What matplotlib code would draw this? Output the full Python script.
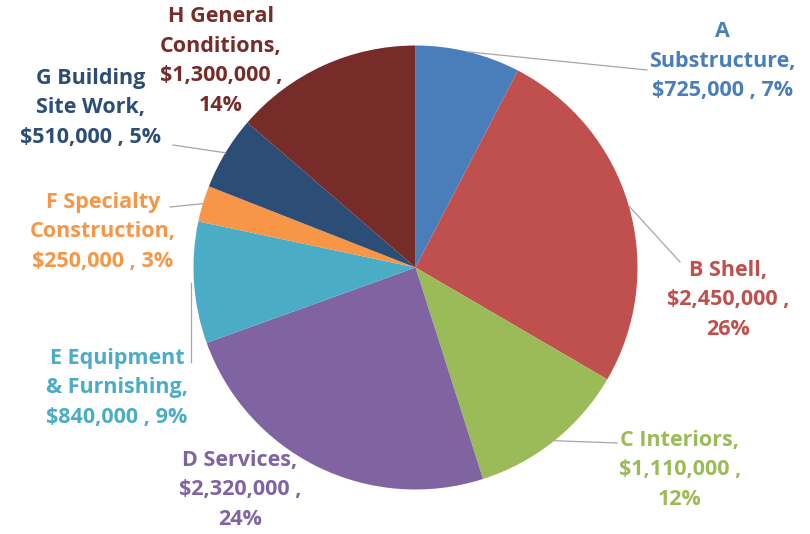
import numpy as np
import matplotlib.pyplot as plt

# budget breakdown by category
categories = ['A\nSubstructure,', 'B Shell,', 'C Interiors,', 'D Services,',
              'E Equipment\n& Furnishing,', 'F Specialty\nConstruction,',
              'G Building\nSite Work,', 'H General\nConditions,']
values = [725000, 2450000, 1110000, 2320000, 840000, 250000, 510000, 1300000]
value_text = ['$725,000 , 7%', '$2,450,000 ,\n26%', '$1,110,000 ,\n12%',
              '$2,320,000 ,\n24%', '$840,000 , 9%', '$250,000 , 3%',
              '$510,000 , 5%', '$1,300,000 ,\n14%']
colors = ['#4A7EBB', '#C0504D', '#9BBB59', '#8064A2',
          '#4BACC6', '#F79646', '#2C4D75', '#772C2A']

# label centres and leader-line ends, in image pixels
label_pos = [(722, 61), (728, 300), (680, 470), (240, 490),
             (117, 388), (103, 232), (91, 108), (221, 61)]
leader_end = [(647, 70), (680, 262), (617, 443), None,
              (191, 362), (170, 207), (173, 145), None]

fig = plt.figure(figsize=(8.1, 5.34), dpi=100)
ax = fig.add_axes([0, 0, 1, 1])
cx, cy, r = 415.5, 267.5, 222

wedges, _ = ax.pie(values, colors=colors, startangle=-90, counterclock=True,
                   center=(cx, cy), radius=r, frame=True,
                   wedgeprops=dict(linewidth=0))
ax.set_xlim(0, 810)
ax.set_ylim(534, 0)
ax.axis('off')

for i, w in enumerate(wedges):
    mid = np.deg2rad((w.theta1 + w.theta2) / 2)
    if leader_end[i] is not None:
        sx, sy = cx + r * np.cos(mid), cy + r * np.sin(mid)
        ex, ey = leader_end[i]
        if i == 4:
            ax.plot([ex, ex], [sy, ey], color='#A6A6A6', lw=0.9)
        else:
            ax.plot([sx, ex], [sy, ey], color='#A6A6A6', lw=0.9)
    x, y = label_pos[i]
    ax.text(x, y, categories[i] + '\n' + value_text[i], ha='center', va='center',
            color=colors[i], fontsize=15.5, fontweight='bold', family='Open Sans',
            linespacing=1.55)

fig.savefig('out.png', dpi=100)
